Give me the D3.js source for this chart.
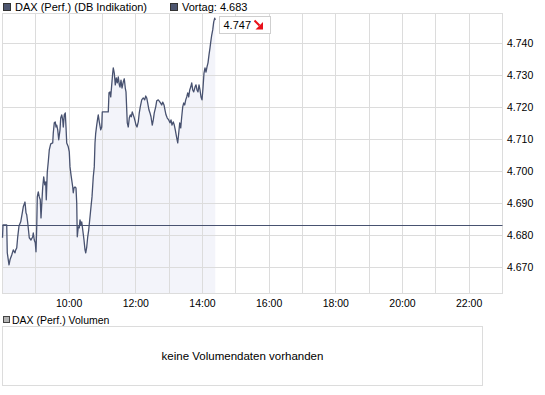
<!DOCTYPE html>
<html>
<head>
<meta charset="utf-8">
<script src="https://cdn.jsdelivr.net/npm/d3@7"></script>
<style>
  body { margin: 0; background: #fff; }
  svg { display: block; font-family: "Liberation Sans", Arial, sans-serif; }
</style>
</head>
<body>
<svg></svg>
<script>
// intraday quotes, time as minutes after 08:00
const minutes = [
  0, 0.9, 7.6, 8.6, 11.7, 13.5, 16.6, 19.4, 21.2, 22.5, 23.8, 25.6, 27.4, 29.7, 32.8, 35.6, 37.4, 40.5, 42.3, 43.6,
  45.4, 48.2, 51.3, 54.4, 55.4, 57.2, 59.0, 60.3, 61.6, 62.6, 64.4, 66.2, 68.0, 69.3, 71.1, 72.4, 74.2, 76.0, 77.8, 78.8,
  80.6, 82.4, 84.2, 86.8, 90.4, 91.4, 93.2, 95.0, 96.3, 97.6, 99.4, 101.2, 103.5, 104.8, 106.6, 108.4, 109.4, 111.2, 113.0, 114.3,
  115.6, 118.4, 120.2, 121.5, 123.3, 126.4, 127.4, 128.7, 130.5, 132.3, 133.6, 134.6, 136.4, 138.2, 139.5, 141.3, 142.6, 144.4, 146.7, 148.5,
  149.8, 151.6, 153.4, 155.2, 157.5, 159.3, 161.1, 163.4, 165.2, 166.5, 167.8, 169.6, 171.4, 172.4, 174.2, 176.8, 178.6, 179.6, 190.4, 191.7,
  193.5, 194.8, 196.6, 198.4, 199.4, 201.2, 203.0, 204.8, 206.6, 208.4, 210.2, 211.5, 213.3, 215.1, 217.4, 219.2, 221.0, 222.3, 224.6, 226.4,
  228.2, 230.0, 231.8, 233.6, 235.4, 237.2, 239.0, 240.3, 242.1, 244.4, 246.2, 248.0, 250.6, 253.4, 256.0, 257.8, 259.6, 261.4, 263.7, 265.5,
  267.3, 269.6, 271.4, 273.2, 275.8, 277.6, 280.4, 283.5, 286.6, 288.4, 290.7, 292.5, 294.3, 296.6, 299.2, 301.5, 303.3, 305.1, 307.4, 309.2,
  311.0, 313.6, 315.4, 317.2, 319.0, 320.8, 322.6, 324.4, 326.2, 328.0, 329.8, 331.6, 333.4, 335.2, 337.0, 338.8, 340.6, 342.4, 344.2, 346.5,
  348.3, 350.1, 351.9, 353.7, 355.5, 357.3, 359.1, 360.9, 362.7, 364.5, 366.3, 368.1, 369.9, 371.7, 373.5, 374.8, 376.6, 378.4, 380.2, 382.0,
  383.0
]
const values = [
  4679.2, 4683.2, 4683.2, 4674.5, 4670.7, 4672.3, 4673.8, 4675.4, 4674.8, 4674.5, 4675.4, 4676.0, 4679.5, 4682.9, 4684.2, 4687.0, 4688.9, 4690.4, 4687.0, 4686.4,
  4683.9, 4679.2, 4678.5, 4679.5, 4680.7, 4678.5, 4677.6, 4674.8, 4682.6, 4692.0, 4693.6, 4692.0, 4691.1, 4685.4, 4691.1, 4695.1, 4698.3, 4695.8, 4696.7, 4691.1,
  4699.8, 4703.0, 4706.7, 4708.6, 4708.9, 4712.0, 4715.2, 4715.5, 4713.9, 4714.5, 4713.0, 4709.9, 4713.0, 4716.7, 4717.7, 4716.1, 4713.9, 4717.7, 4718.3, 4713.9,
  4708.9, 4707.7, 4706.1, 4701.4, 4698.9, 4695.1, 4693.3, 4694.8, 4695.1, 4694.8, 4690.1, 4679.5, 4682.6, 4682.3, 4684.8, 4683.2, 4684.2, 4681.7, 4678.5, 4675.4,
  4674.5, 4676.3, 4679.5, 4681.7, 4685.7, 4688.9, 4692.0, 4698.3, 4701.4, 4708.9, 4712.0, 4714.5, 4716.7, 4717.7, 4715.5, 4713.0, 4713.9, 4718.6, 4718.6, 4724.6,
  4724.9, 4723.3, 4727.1, 4730.8, 4732.4, 4730.8, 4727.1, 4729.3, 4727.7, 4729.6, 4727.1, 4726.4, 4728.6, 4726.1, 4728.0, 4729.0, 4726.1, 4724.9, 4715.2, 4713.9,
  4716.7, 4717.7, 4717.1, 4718.6, 4717.7, 4716.7, 4715.5, 4714.5, 4713.9, 4715.5, 4718.3, 4720.2, 4722.4, 4723.0, 4722.4, 4723.6, 4723.0, 4721.4, 4719.2, 4718.3,
  4717.1, 4714.5, 4716.1, 4718.3, 4720.2, 4722.1, 4722.4, 4721.7, 4720.8, 4721.7, 4720.8, 4719.2, 4717.7, 4716.7, 4716.1, 4715.2, 4716.1, 4714.5, 4715.5, 4714.5,
  4713.0, 4710.5, 4708.9, 4712.0, 4715.2, 4713.6, 4717.1, 4720.2, 4721.4, 4720.8, 4722.4, 4723.3, 4724.6, 4723.3, 4725.5, 4726.4, 4727.7, 4725.5, 4724.9, 4726.4,
  4727.1, 4725.5, 4724.9, 4727.1, 4725.5, 4723.3, 4722.4, 4726.1, 4730.8, 4732.4, 4731.1, 4732.7, 4734.0, 4736.5, 4738.7, 4740.5, 4742.7, 4744.3, 4746.8, 4748.0,
  4747.4
]
const prevClose = 4683
const lastQuote = 4747
const yTicks = [4670, 4680, 4690, 4700, 4710, 4720, 4730, 4740]
const seriesName = "DAX (Perf.) (DB Indikation)"
const prevName = "Vortag: "
const volumeName = "DAX (Perf.) Volumen"
const noVolume = "keine Volumendaten vorhanden"

const width = 545, height = 395
const plotTop = 13, plotBottom = 293, plotLeft = 2.5, plotRight = 502.5
const lineColor = "#485270", gridColor = "#dcdcdc"

const de = d3.formatLocale({decimal: ",", thousands: ".", grouping: [3], currency: ["", " €"]})
const fmt = de.format(",d")
const fmtTime = d3.timeFormat("%H:%M")

const day = new Date(2014, 0, 2)
const at = m => new Date(day.getTime() + (8 * 60 + m) * 60000)
const data = minutes.map((m, i) => ({t: at(m), v: values[i]}))

const x = d3.scaleTime().domain([at(0), at(15 * 60)]).range([plotLeft, plotRight])
const y = d3.scaleLinear().domain([4661.9, 4749.6]).range([plotBottom, plotTop])
const crisp = v => Math.round(v - 0.5) + 0.5

const svg = d3.select("svg").attr("width", width).attr("height", height)

// area under the line
svg.append("path")
   .datum(data)
   .attr("fill", "#f3f4fa")
   .attr("d", d3.area().x(d => x(d.t)).y0(plotBottom).y1(d => y(d.v)))

// grid
const hours = x.ticks(d3.timeHour.every(1))
svg.selectAll("line.vgrid")
   .data(hours.slice(1, -1))
   .join("line")
   .attr("class", "vgrid")
   .attr("x1", d => crisp(x(d))).attr("x2", d => crisp(x(d)))
   .attr("y1", plotTop).attr("y2", plotBottom)
   .attr("stroke", gridColor)

svg.selectAll("line.hgrid")
   .data(yTicks)
   .join("line")
   .attr("class", "hgrid")
   .attr("x1", plotLeft).attr("x2", plotRight)
   .attr("y1", d => crisp(y(d))).attr("y2", d => crisp(y(d)))
   .attr("stroke", gridColor)

svg.append("rect")
   .attr("x", plotLeft).attr("y", plotTop + 0.5)
   .attr("width", plotRight - plotLeft).attr("height", plotBottom - plotTop)
   .attr("fill", "none").attr("stroke", gridColor)

// previous close
svg.append("line")
   .attr("x1", plotLeft).attr("x2", plotRight)
   .attr("y1", crisp(y(prevClose))).attr("y2", crisp(y(prevClose)))
   .attr("stroke", lineColor)

svg.append("path")
   .datum(data)
   .attr("fill", "none")
   .attr("stroke", lineColor)
   .attr("stroke-width", 1.3)
   .attr("stroke-linejoin", "round")
   .attr("d", d3.line().x(d => x(d.t)).y(d => y(d.v)))

// axis labels
svg.selectAll("text.ylab")
   .data(yTicks)
   .join("text")
   .attr("class", "ylab")
   .attr("x", plotRight + 4.5)
   .attr("y", d => y(d))
   .attr("dy", "0.36em")
   .attr("font-size", "10.5px")
   .text(d => fmt(d))

svg.selectAll("text.xlab")
   .data(x.ticks(d3.timeHour.every(2)).filter(d => d.getHours() >= 10))
   .join("text")
   .attr("class", "xlab")
   .attr("x", d => x(d))
   .attr("y", 307)
   .attr("text-anchor", "middle")
   .attr("font-size", "10.5px")
   .text(d => fmtTime(d))

// header
svg.append("rect").attr("x", 3.5).attr("y", 3.5).attr("width", 7).attr("height", 7)
   .attr("fill", "#4d5670").attr("stroke", "#333")
svg.append("text").attr("x", 15).attr("y", 10.5).attr("font-size", "11px").text(seriesName)
svg.append("rect").attr("x", 170.5).attr("y", 3.5).attr("width", 7).attr("height", 7)
   .attr("fill", "#4d5670").attr("stroke", "#333")
svg.append("text").attr("x", 182).attr("y", 10.5).attr("font-size", "11px").text(prevName + fmt(prevClose))

// last quote tag
const last = data[data.length - 1]
const bx = Math.round(x(last.t)) + 4.5, by = 16.5
svg.append("rect").attr("x", bx).attr("y", by).attr("width", 51).attr("height", 17)
   .attr("fill", "#fff").attr("stroke", "#cfcfcf")
svg.append("text").attr("x", bx + 4).attr("y", by + 12).attr("font-size", "11px").text(fmt(lastQuote))
svg.append("path")
   .attr("d", `M${bx + 35},${by + 4} L${bx + 40},${by + 9}`)
   .attr("stroke", "#e8101a").attr("stroke-width", 2)
svg.append("path")
   .attr("d", `M${bx + 43.5},${by + 13} L${bx + 43.5},${by + 5.5} L${bx + 36},${by + 13} Z`)
   .attr("fill", "#e8101a")

// volume panel
svg.append("rect").attr("x", 3.5).attr("y", 316.5).attr("width", 6).attr("height", 6)
   .attr("fill", "#b4b4b4").attr("stroke", "#444")
svg.append("text").attr("x", 12).attr("y", 323.5).attr("font-size", "10.5px").text(volumeName)
svg.append("rect").attr("x", 2.5).attr("y", 326.5).attr("width", 480).attr("height", 59)
   .attr("fill", "#fff").attr("stroke", gridColor)
svg.append("text").attr("x", 242.5).attr("y", 360).attr("text-anchor", "middle")
   .attr("font-size", "11.5px").text(noVolume)
</script>
</body>
</html>
